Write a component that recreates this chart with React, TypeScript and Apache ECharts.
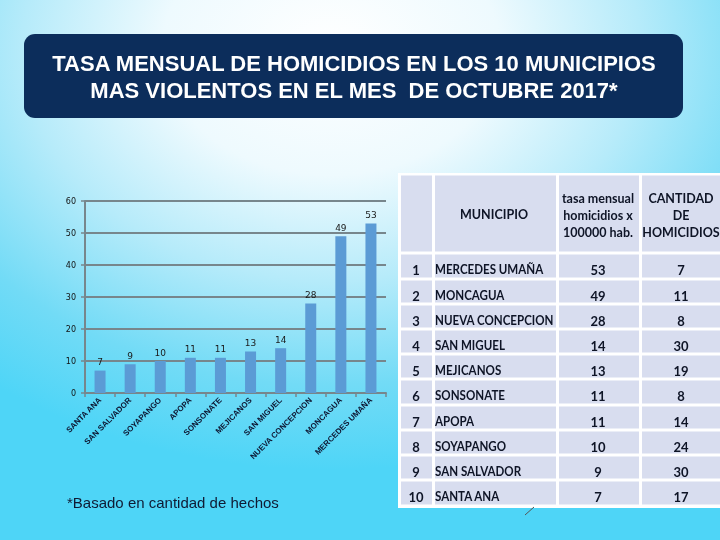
import React, { useEffect, useRef } from "react";
import * as echarts from "echarts";

// ---- data ----
const municipios = [
  "SANTA ANA",
  "SAN SALVADOR",
  "SOYAPANGO",
  "APOPA",
  "SONSONATE",
  "MEJICANOS",
  "SAN MIGUEL",
  "NUEVA CONCEPCION",
  "MONCAGUA",
  "MERCEDES UMAÑA",
];
const tasaValues = [7, 9, 10, 11, 11, 13, 14, 28, 49, 53];
const cantidadValues = [17, 30, 24, 14, 8, 19, 30, 8, 11, 7];
const yMin = 0;
const yMax = 60;
const yInterval = 10;

const titleLines = [
  "TASA MENSUAL DE HOMICIDIOS EN LOS 10 MUNICIPIOS",
  "MAS VIOLENTOS EN EL MES  DE OCTUBRE 2017*",
];
const tableHeaders = [
  "",
  "MUNICIPIO",
  "tasa mensual\nhomicidios x\n100000 hab.",
  "CANTIDAD\nDE\nHOMICIDIOS",
];
const footnote = "*Basado en cantidad de hechos";

// ---- layout (styles) ----
const colX = [399, 433, 557, 640, 723];
const rowY = [174, 253, 279, 304, 329, 354, 379, 405, 430, 455, 480, 506];
const cellFill = "#d8ddef";
const textDark = "#0e1426";
const tableFont = "Lato";

function buildGraphic() {
  const els: any[] = [];
  // background
  els.push({
    type: "rect",
    z: -100,
    silent: true,
    shape: { x: 0, y: 0, width: 720, height: 540 },
    style: {
      fill: new echarts.graphic.RadialGradient(0.46, 0.09, 0.78, [
        { offset: 0, color: "#ffffff" },
        { offset: 0.3, color: "#eefafe" },
        { offset: 0.55, color: "#b6ebfa" },
        { offset: 0.8, color: "#72dbf6" },
        { offset: 1, color: "#4ed5f7" },
      ]),
    },
  });
  // title box
  els.push({
    type: "rect",
    z: 5,
    shape: { x: 24, y: 34, width: 659, height: 84, r: 11 },
    style: { fill: "#0c2d5b" },
  });
  titleLines.forEach((t, i) => {
    els.push({
      type: "text",
      z: 6,
      x: 354,
      y: 63 + i * 27,
      style: {
        text: t,
        fill: "#ffffff",
        font: 'bold 22px "Liberation Sans", Arial, sans-serif',
        textAlign: "center",
        textVerticalAlign: "middle",
        align: "center",
        verticalAlign: "middle",
      },
    });
  });
  // table background (white lines)
  els.push({
    type: "rect",
    z: 5,
    shape: { x: colX[0] - 1, y: rowY[0] - 1, width: 720 - colX[0] + 2, height: rowY[rowY.length - 1] - rowY[0] + 3 },
    style: { fill: "#ffffff" },
  });
  for (let r = 0; r < rowY.length - 1; r++) {
    for (let c = 0; c < colX.length - 1; c++) {
      els.push({
        type: "rect",
        z: 6,
        shape: {
          x: colX[c] + 2,
          y: rowY[r] + 1.5,
          width: colX[c + 1] - colX[c] - 3,
          height: rowY[r + 1] - rowY[r] - 3,
        },
        style: { fill: cellFill },
      });
    }
  }
  // header texts
  const headerCx = [416, 494, 598, 681];
  tableHeaders.forEach((h, c) => {
    if (!h) return;
    els.push({
      type: "text",
      z: 7,
      x: headerCx[c],
      y: c === 1 ? 214 : 215,
      style: {
        text: h,
        fill: textDark,
        font: `bold 12.5px ${tableFont}`,
        lineHeight: 17,
        textAlign: "center",
        textVerticalAlign: "middle",
        align: "center",
        verticalAlign: "middle",
      },
    });
  });
  // rows (ranking order = reversed chart order)
  const n = municipios.length;
  for (let i = 0; i < n; i++) {
    const idx = n - 1 - i;
    const y = rowY[i + 1] + 16.5;
    const common = {
      fill: textDark,
      font: `bold 13px ${tableFont}`,
      textVerticalAlign: "middle",
      verticalAlign: "middle",
    };
    els.push({
      type: "text", z: 7, x: 416, y,
      style: { ...common, text: String(i + 1), textAlign: "center", align: "center" },
    });
    els.push({
      type: "text", z: 7, x: 435, y, scaleX: 0.89,
      style: { ...common, text: municipios[idx], textAlign: "left", align: "left" },
    });
    els.push({
      type: "text", z: 7, x: 598, y,
      style: { ...common, text: String(tasaValues[idx]), textAlign: "center", align: "center" },
    });
    els.push({
      type: "text", z: 7, x: 681, y,
      style: { ...common, text: String(cantidadValues[idx]), textAlign: "center", align: "center" },
    });
  }
  // small stray line
  els.push({
    type: "line",
    z: 7,
    shape: { x1: 534, y1: 507, x2: 525, y2: 515 },
    style: { stroke: "#555", lineWidth: 1 },
  });
  // footnote
  els.push({
    type: "text",
    z: 7,
    x: 67,
    y: 502,
    style: {
      text: footnote,
      fill: "#0f1a33",
      font: '15px "Liberation Sans", Arial, sans-serif',
      textAlign: "left",
      align: "left",
      textVerticalAlign: "middle",
      verticalAlign: "middle",
    },
  });
  return els;
}

export default function App() {
  const ref = useRef<HTMLDivElement>(null);
  useEffect(() => {
    if (!ref.current) return;
    const chart = echarts.init(ref.current, undefined, { renderer: "svg" });
    const axisColor = "#77868c";
    chart.setOption({
      animation: false,
      graphic: buildGraphic(),
      grid: { left: 85, right: 334, top: 201, bottom: 147, containLabel: false },
      xAxis: {
        type: "category",
        data: municipios,
        axisLine: { lineStyle: { color: axisColor, width: 2 } },
        axisTick: { show: true, length: 4, lineStyle: { color: axisColor, width: 1.5 } },
        axisLabel: {
          rotate: 45,
          interval: 0,
          fontSize: 8,
          fontWeight: "bold",
          fontFamily: '"Liberation Sans", Arial, sans-serif',
          color: "#0d1530",
          margin: 6,
        },
      },
      yAxis: {
        type: "value",
        min: yMin,
        max: yMax,
        interval: yInterval,
        axisLine: { show: true, lineStyle: { color: axisColor, width: 2 } },
        axisTick: { show: true, length: 4, lineStyle: { color: axisColor, width: 1.5 } },
        axisLabel: {
          fontSize: 8,
          color: "#111",
          fontFamily: '"DejaVu Sans", sans-serif',
          margin: 9,
        },
        splitLine: { lineStyle: { color: axisColor, width: 2 } },
      },
      series: [
        {
          type: "bar",
          data: tasaValues,
          barWidth: 11,
          itemStyle: { color: "#5b9bd5" },
          z: 3,
          label: {
            show: true,
            position: "top",
            distance: 4,
            fontSize: 9,
            color: "#1a1a1a",
            fontFamily: '"DejaVu Sans", sans-serif',
          },
        },
      ],
    });
    return () => chart.dispose();
  }, []);
  return (
    <div
      ref={ref}
      style={{ position: "fixed", left: 0, top: 0, width: 720, height: 540 }}
    />
  );
}
